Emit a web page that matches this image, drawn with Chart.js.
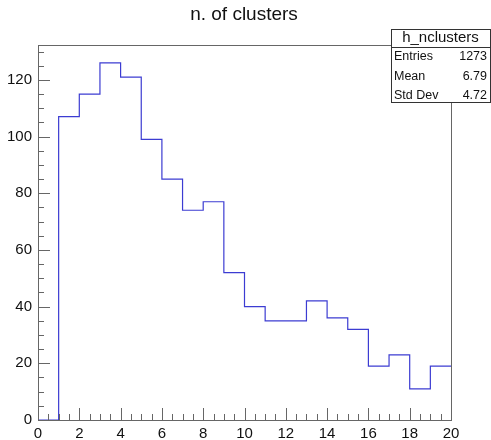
<!DOCTYPE html>
<html lang="en">
<head>
    <meta charset="UTF-8">
    <title>n. of clusters</title>
    <script src="https://cdn.jsdelivr.net/npm/chart.js"></script>
    <style>
        body {
            margin: 0;
            background-color: #fff;
        }
        #wrap {
            width: 491px;
            height: 440px;
        }
    </style>
</head>
<body>
    <div id="wrap"><canvas id="chartCanvas"></canvas></div>
    <script>
        // histogram h_nclusters, 20 bins from 0 to 20
        const binEdges = [0, 1, 2, 3, 4, 5, 6, 7, 8, 9, 10, 11, 12, 13, 14, 15, 16, 17, 18, 19, 20];
        const binCounts = [0, 107, 115, 126, 121, 99, 85, 74, 77, 52, 40, 35, 35, 42, 36, 32, 19, 23, 11, 19];
        const statLabels = ['Entries', 'Mean', 'Std Dev'];
        const statValues = ['1273', '6.79', '4.72'];
        const histName = 'h_nclusters';
        const titleText = 'n. of clusters';
        const yMax = 132.3;

        const fontName = '"Liberation Sans", Arial, Helvetica, sans-serif';

        // step points: one per bin low edge, plus the last upper edge
        const stepData = binCounts.map((v, i) => ({ x: binEdges[i], y: v }));
        stepData.push({ x: binEdges[binEdges.length - 1], y: binCounts[binCounts.length - 1] });

        // frame, inner ticks, title and stats box, ROOT style
        const rootStyle = {
            id: 'rootStyle',
            afterDraw(chart) {
                const c = chart.ctx;
                const a = chart.chartArea;
                const xs = chart.scales.x;
                const ys = chart.scales.y;
                c.save();
                c.strokeStyle = '#666';
                c.lineWidth = 1;
                c.strokeRect(a.left + 0.5, a.top + 0.5, a.right - a.left, a.bottom - a.top);

                c.beginPath();
                for (let v = 0; v <= 20.001; v += 0.5) {
                    const px = Math.round(xs.getPixelForValue(v)) + 0.5;
                    const len = (Math.abs(v % 2) < 0.001) ? 12 : 6;
                    c.moveTo(px, a.bottom);
                    c.lineTo(px, a.bottom - len);
                }
                for (let v = 0; v <= yMax; v += 5) {
                    const py = Math.round(ys.getPixelForValue(v)) + 0.5;
                    const len = (v % 20 === 0) ? 12 : 6;
                    c.moveTo(a.left, py);
                    c.lineTo(a.left + len, py);
                }
                c.stroke();

                // title
                c.fillStyle = '#111';
                c.font = '19px ' + fontName;
                c.textAlign = 'center';
                c.textBaseline = 'middle';
                c.fillText(titleText, 244, 15);

                // stats box
                const bx = 391, by = 29, bw = 99, bh = 73;
                c.fillStyle = '#fff';
                c.fillRect(bx, by, bw, bh);
                c.strokeStyle = '#333';
                c.strokeRect(bx + 0.5, by + 0.5, bw, bh);
                c.beginPath();
                c.moveTo(bx, 47.5);
                c.lineTo(bx + bw, 47.5);
                c.stroke();
                c.fillStyle = '#111';
                c.font = '15px ' + fontName;
                c.fillText(histName, bx + bw / 2, 38);
                c.font = '12.5px ' + fontName;
                const rowY = [57, 76.5, 95.5];
                statLabels.forEach((lab, i) => {
                    c.textAlign = 'left';
                    c.fillText(lab, bx + 3, rowY[i]);
                    c.textAlign = 'right';
                    c.fillText(statValues[i], bx + bw - 3, rowY[i]);
                });
                c.restore();
            }
        };

        const ctx = document.getElementById('chartCanvas').getContext('2d');
        new Chart(ctx, {
            type: 'line',
            data: {
                datasets: [{
                    label: histName,
                    data: stepData,
                    stepped: 'before',
                    borderColor: '#3c3cd2',
                    borderWidth: 1.2,
                    pointRadius: 0,
                    fill: false
                }]
            },
            options: {
                responsive: true,
                maintainAspectRatio: false,
                animation: false,
                layout: { padding: { top: 45, right: 40, left: 0, bottom: 0 } },
                plugins: {
                    legend: { display: false },
                    tooltip: { enabled: false }
                },
                scales: {
                    x: {
                        type: 'linear',
                        min: 0,
                        max: 20,
                        grid: { display: false, drawTicks: false },
                        border: { display: false },
                        ticks: {
                            stepSize: 2,
                            padding: 5,
                            color: '#111',
                            font: { family: fontName, size: 15 },
                            maxRotation: 0
                        },
                        afterFit(scale) { scale.height = 20; }
                    },
                    y: {
                        min: 0,
                        max: yMax,
                        grid: { display: false, drawTicks: false },
                        border: { display: false },
                        ticks: {
                            stepSize: 20,
                            padding: 6,
                            color: '#111',
                            font: { family: fontName, size: 15 }
                        },
                        afterBuildTicks(scale) {
                            scale.ticks = scale.ticks.filter(t => t.value % 20 === 0);
                        },
                        afterFit(scale) { scale.width = 38; }
                    }
                }
            },
            plugins: [rootStyle]
        });
    </script>
</body>
</html>
